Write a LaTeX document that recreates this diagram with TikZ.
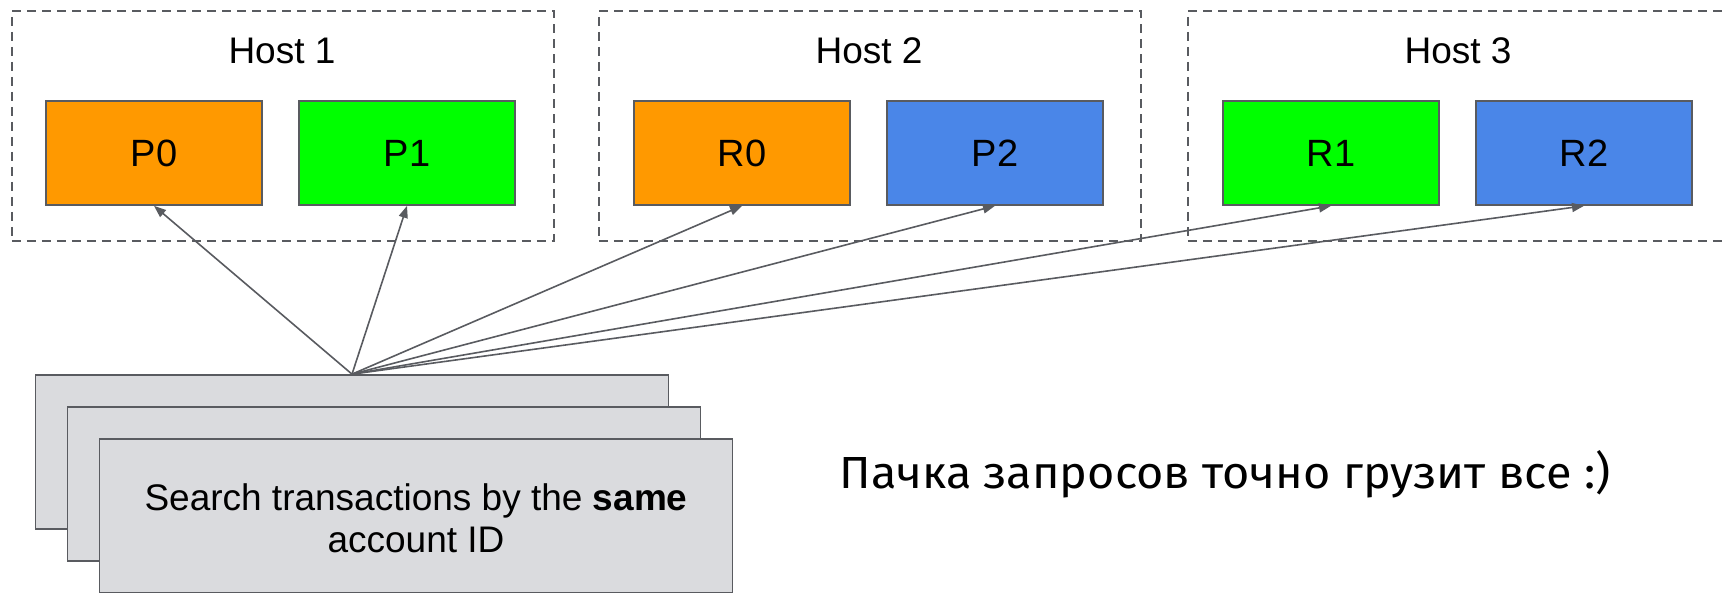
\documentclass[tikz,border=0pt]{standalone}
\usepackage{fontspec}
\setmainfont{Liberation Sans}
\newfontfamily\rufont{Fira Sans}[FakeStretch=1.04]
\usetikzlibrary{arrows.meta}
\definecolor{edgegray}{HTML}{595B60}
\definecolor{partorange}{HTML}{FF9900}
\definecolor{partgreen}{HTML}{00FF00}
\definecolor{partblue}{HTML}{4A86E8}
\definecolor{reqgray}{HTML}{DADBDE}
\tikzset{
  hostbox/.style={draw=edgegray, line width=1.8pt, dash pattern=on 9pt off 6pt,
    minimum width=542pt, minimum height=230pt, anchor=north west, inner sep=0pt},
  hostlabel/.style={font=\fontsize{37}{44}\selectfont, inner sep=0pt},
  part/.style={draw=edgegray, line width=1.7pt, minimum width=216pt, minimum height=104pt,
    font=\fontsize{38}{44}\selectfont, inner sep=0pt},
  request/.style={draw=edgegray, line width=1.7pt, fill=reqgray,
    minimum width=633pt, minimum height=154pt, inner sep=0pt},
  reqtext/.style={font=\fontsize{37}{42}\selectfont, align=center, inner sep=0pt},
  conn/.style={draw=edgegray, line width=1.6pt, -{Triangle[length=12pt,width=9pt]}},
  note/.style={font=\rufont\fontsize{45}{52}\selectfont, inner sep=0pt, anchor=base}
}
\begin{document}
\begin{tikzpicture}[x=1pt,y=-1pt]
\useasboundingbox (0,0) rectangle (1725,592);

% hosts
\node[hostbox] (host1) at (11,10) {};
\node[hostbox] (host2) at (598,10) {};
\node[hostbox] (host3) at (1187,10) {};
\node[hostlabel] (h1) at (282,51) {Host 1};
\node[hostlabel] (h2) at (869,51) {Host 2};
\node[hostlabel] (h3) at (1458,51) {Host 3};

% partitions and replicas
\node[part, fill=partorange] (P0) at (154,153) {P0};
\node[part, fill=partgreen]  (P1) at (407,153) {P1};
\node[part, fill=partorange] (R0) at (742,153) {R0};
\node[part, fill=partblue]   (P2) at (995,153) {P2};
\node[part, fill=partgreen]  (R1) at (1331,153) {R1};
\node[part, fill=partblue]   (R2) at (1584,153) {R2};

% stack of requests
\node[request] (back)  at (352,452) {};
\node[request] (mid)   at (384,484) {};
\node[request] (front) at (416,516) {};
\node[reqtext] (qtext) at (416,518) {Search transactions by the \textbf{same}\\account ID};

% every request hits every copy
\draw[conn] (back.north) -- (P0.south);
\draw[conn] (back.north) -- (P1.south);
\draw[conn] (back.north) -- (R0.south);
\draw[conn] (back.north) -- (P2.south);
\draw[conn] (back.north) -- (R1.south);
\draw[conn] (back.north) -- (R2.south);

\node[note] (remark) at (1225,488) {Пачка запросов точно грузит все :)};
\end{tikzpicture}
\end{document}
